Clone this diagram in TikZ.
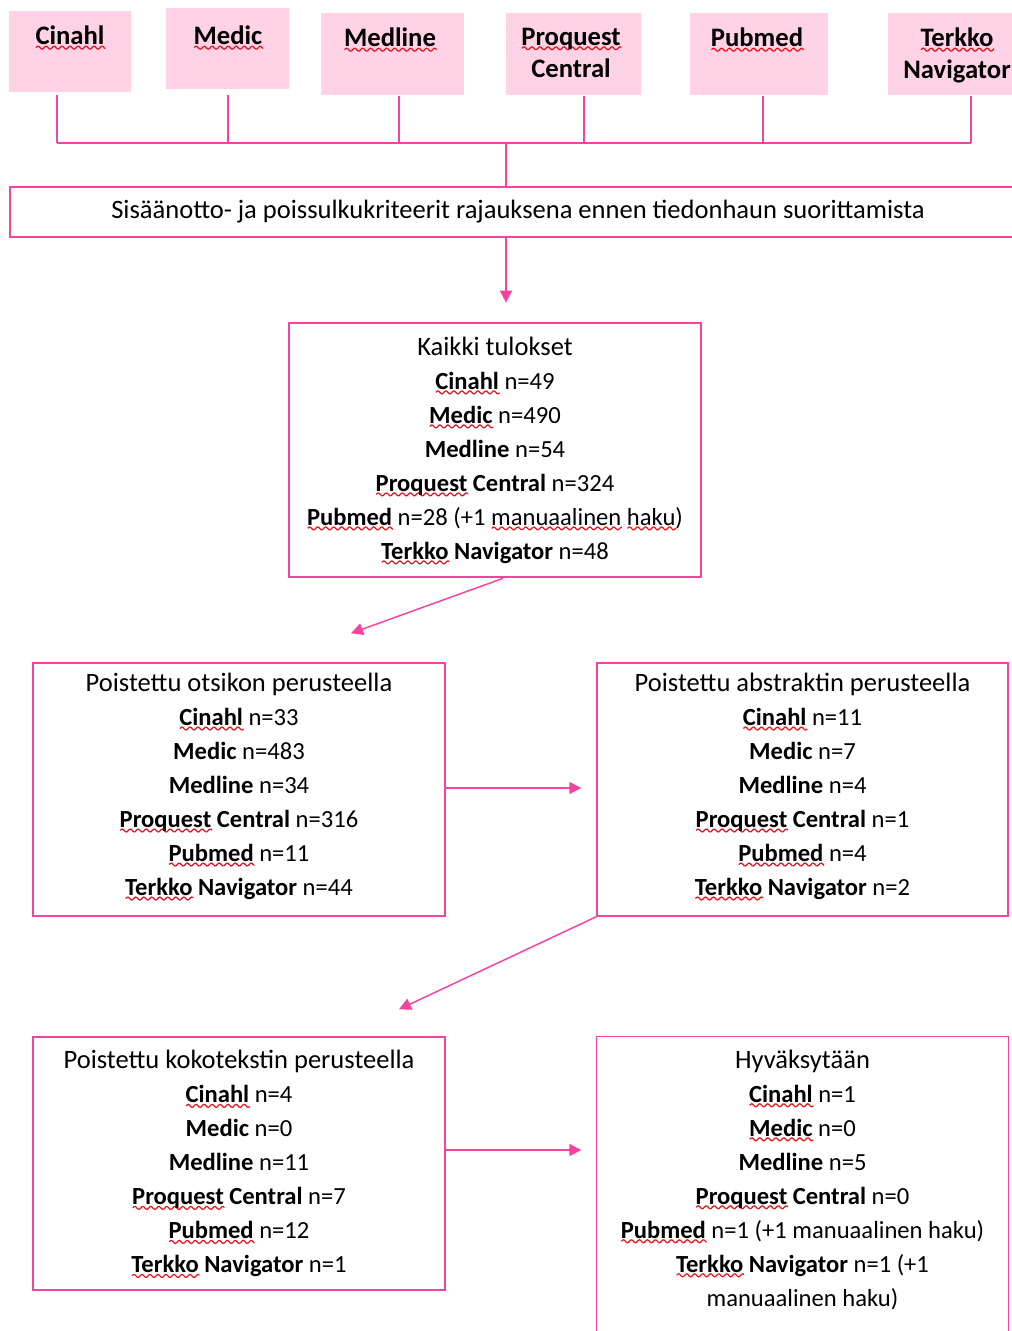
\documentclass[tikz,border=0pt]{standalone}
\usepackage{fontspec}
\setmainfont{Carlito}
\usetikzlibrary{calc,arrows.meta}
\definecolor{lnpink}{HTML}{F8429F}
\definecolor{fillpink}{HTML}{FFD3E5}
\definecolor{sqred}{HTML}{E8101A}
\newcommand\sq[1]{\setbox0=\hbox{#1}\pgfmathsetmacro\sqw{\wd0}%
  \rlap{\smash{\raisebox{-4pt}{\tikz[x=1pt,y=1pt]{\draw[sqred,line width=0.9pt] plot[domain=0:\sqw,samples=90] (\x,{1.1*sin(\x*60)});}}}}\box0\relax}
\newcommand\ttl[1]{{\fontsize{19.9}{25.5}\selectfont #1}}
\begin{document}
\begin{tikzpicture}[x=0.75pt,y=-0.75pt,
  dbbox/.style={fill=fillpink,draw=none,inner sep=0pt},
  dbtext/.style={anchor=north,align=center,font=\fontsize{20}{24}\selectfont\bfseries},
  resbox/.style={draw=lnpink,line width=1.1pt,inner sep=0pt,align=center,
     font=\fontsize{18.45}{25.5}\selectfont},
  conn/.style={draw=lnpink,line width=1.1pt},
  arr/.style={draw=lnpink,line width=1.1pt,-{Triangle[width=9pt,length=9pt]}}]
\clip (0,0) rectangle (1012,1331);
\fill[white] (0,0) rectangle (1012,1331);

% top database boxes
\node[dbbox,minimum width=91.5pt,minimum height=60.75pt] (cinahl) at (70,51.5) {};
\node[dbtext] (tcinahl) at (70,21) {\sq{Cinahl}};
\node[dbbox,minimum width=92.25pt,minimum height=60.75pt] (medic) at (227.5,48.5) {};
\node[dbtext] (tmedic) at (228,21) {\sq{Medic}};
\node[dbbox,minimum width=107.25pt,minimum height=61.5pt] (medline) at (392.5,54) {};
\node[dbtext] (tmedline) at (390,23) {\sq{Medline}};
\node[dbbox,minimum width=101.25pt,minimum height=61.5pt] (proquest) at (573.5,54) {};
\node[dbtext] (tproquest) at (571,23) {\sq{Proquest}\\Central};
\node[dbbox,minimum width=103.5pt,minimum height=61.5pt] (pubmed) at (759,54) {};
\node[dbtext] (tpubmed) at (757,23) {\sq{Pubmed}};
\node[dbbox,minimum width=105pt,minimum height=61.5pt] (terkko) at (958,54) {};
\node[dbtext] (tterkko) at (957,23) {\sq{Terkko}\\Navigator};

% bus
\coordinate (busL) at (57,143);
\coordinate (busR) at (971,143);
\coordinate (busM) at (506,143);
\draw[conn] ($(cinahl.south -| 57,0)+(0,3)$) -- (busL);
\draw[conn] ($(medic.south -| 228,0)+(0,6)$) -- (228,143);
\draw[conn] ($(medline.south -| 399,0)+(0,1)$) -- (399,143);
\draw[conn] ($(proquest.south -| 584,0)+(0,1)$) -- (584,143);
\draw[conn] ($(pubmed.south -| 763,0)+(0,1)$) -- (763,143);
\draw[conn] ($(terkko.south -| 971,0)+(0,1)$) -- (busR);
\draw[conn] (busL) -- (busR);

% criteria box
\node[draw=lnpink,line width=1.1pt,minimum width=762pt,minimum height=37.5pt,inner sep=0pt,
  font=\fontsize{19.9}{24}\selectfont] (crit) at (518,212)
  {Sisäänotto- ja poissulkukriteerit rajauksena ennen tiedonhaun suorittamista};
\draw[conn] (busM) -- (crit.north -| busM);

% all results
\node[resbox,line width=2pt,minimum width=309pt,minimum height=190.5pt] (kaikki) at (495,450)
{\ttl{Kaikki tulokset}\\
\textbf{\sq{Cinahl}} n=49\\
\textbf{\sq{Medic}} n=490\\
\textbf{Medline} n=54\\
\textbf{\sq{Proquest} Central} n=324\\
\textbf{\sq{Pubmed}} n=28 (+1 \sq{manuaalinen} \sq{haku})\\
\textbf{\sq{Terkko} Navigator} n=48};
\draw[arr] (crit.south -| busM) -- ($(kaikki.north -| busM)+(0,-19)$);

\node[resbox,text depth=8.2pt,minimum width=309pt,minimum height=189.75pt] (b2) at (239,789.5)
{\ttl{Poistettu otsikon perusteella}\\
\textbf{\sq{Cinahl}} n=33\\
\textbf{Medic} n=483\\
\textbf{Medline} n=34\\
\textbf{\sq{Proquest} Central} n=316\\
\textbf{\sq{Pubmed}} n=11\\
\textbf{\sq{Terkko} Navigator} n=44};

\node[resbox,text depth=8.2pt,minimum width=308.25pt,minimum height=189.75pt] (b3) at (802.5,789.5)
{\ttl{Poistettu abstraktin perusteella}\\
\textbf{\sq{Cinahl}} n=11\\
\textbf{Medic} n=7\\
\textbf{Medline} n=4\\
\textbf{\sq{Proquest} Central} n=1\\
\textbf{\sq{Pubmed}} n=4\\
\textbf{\sq{Terkko} Navigator} n=2};

\node[resbox,minimum width=309pt,minimum height=189.75pt] (b4) at (239,1163.5)
{\ttl{Poistettu kokotekstin perusteella}\\
\textbf{\sq{Cinahl}} n=4\\
\textbf{Medic} n=0\\
\textbf{Medline} n=11\\
\textbf{\sq{Proquest} Central} n=7\\
\textbf{\sq{Pubmed}} n=12\\
\textbf{\sq{Terkko} Navigator} n=1};

\node[resbox,draw=none,minimum width=308.25pt,minimum height=213.75pt] (b5) at (802.5,1179.5)
{\ttl{Hyväksytään}\\
\textbf{\sq{Cinahl}} n=1\\
\textbf{\sq{Medic}} n=0\\
\textbf{Medline} n=5\\
\textbf{\sq{Proquest} Central} n=0\\
\textbf{\sq{Pubmed}} n=1 (+1 manuaalinen haku)\\
\textbf{\sq{Terkko} Navigator} n=1 (+1\\
manuaalinen haku)};
\draw[conn] (b5.south west |- 0,1345) -- (b5.north west) -- (b5.north east) -- (b5.south east |- 0,1345);

% arrows
\draw[arr] ($(kaikki.south)+(8,0)$) -- ($(b2.north)+(112,-29)$);
\draw[arr] ($(b2.east)+(0,-1.5)$) -- ($(b3.west)+(-15,-1.5)$);
\draw[arr] (b3.south west) -- ($(b4.north)+(160,-27)$);
\draw[arr] ($(b4.east)+(0,-13.5)$) -- ($(b4.east -| b5.west)+(-15,-13.5)$);
\end{tikzpicture}
\end{document}
